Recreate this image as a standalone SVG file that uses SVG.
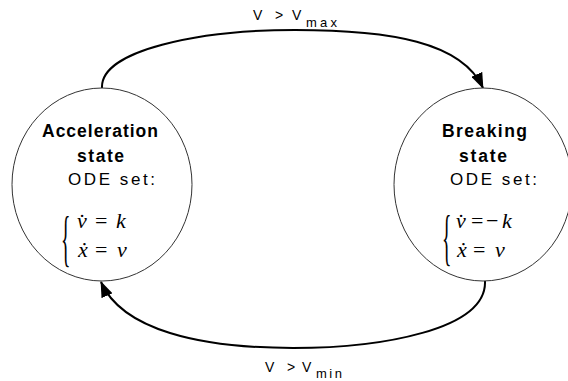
<svg xmlns="http://www.w3.org/2000/svg" width="568" height="381" viewBox="0 0 568 381">
<style>
.state{fill:#fff;stroke:#333;stroke-width:1}
.title{font-family:"Liberation Sans",Arial,sans-serif;font-weight:bold;font-size:17.5px;fill:#000}
.ode{font-family:"Liberation Sans",Arial,sans-serif;font-size:17px;fill:#000}
.eq{font-family:"Liberation Serif","Times New Roman",serif;font-style:italic;font-size:22px;fill:#000}
.op{font-family:"Liberation Serif","Times New Roman",serif;font-style:normal;font-size:22px;fill:#000}
.brace{font-family:"Liberation Serif","Times New Roman",serif;font-size:58px;fill:#000}
.lbl{font-family:"Liberation Sans",Arial,sans-serif;font-size:14px;fill:#000}
.sub{font-family:"Liberation Sans",Arial,sans-serif;font-size:13px;fill:#000}
.edge{fill:none;stroke:#000;stroke-width:2}
</style>
<defs>
<marker id="arr" markerUnits="userSpaceOnUse" markerWidth="16" markerHeight="12" refX="15" refY="6" orient="auto">
<path d="M0,0 L16,6 L0,12 Z" fill="#000"/>
</marker>
</defs>
<rect width="568" height="381" fill="#fff"/>
<g id="connectors">
<path class="edge" d="M102,88 C100,50 200,30 295,30 C390,30 462,42 483,88" marker-end="url(#arr)"/>
<path class="edge" d="M485,281 C487,330 380,348 293,348 C200,348 122,330 101,282" marker-end="url(#arr)"/>
<text class="lbl" y="20"><tspan x="253">V</tspan><tspan x="275">&gt;</tspan><tspan x="292">V</tspan></text>
<text class="sub" x="306" y="27" textLength="31">max</text>
<text class="lbl" y="372"><tspan x="265">V</tspan><tspan x="287">&gt;</tspan><tspan x="302">V</tspan></text>
<text class="sub" x="316" y="378" textLength="26">min</text>
</g>
<g id="acceleration">
<ellipse class="state" cx="102" cy="184.5" rx="90" ry="96.5"/>
<text class="title" x="42" y="137" textLength="116">Acceleration</text>
<text class="title" x="77" y="162" textLength="47">state</text>
<text class="ode" x="68" y="185" textLength="87">ODE set:</text>
<text class="brace" transform="translate(61,259) scale(0.34,1.05)">{</text>
<text class="eq" y="228"><tspan x="77">v&#775;</tspan><tspan class="op" x="95">=</tspan><tspan x="116">k</tspan></text>
<text class="eq" y="257"><tspan x="78">x&#775;</tspan><tspan class="op" x="95">=</tspan><tspan x="117">v</tspan></text>
</g>
<g id="breaking">
<ellipse class="state" cx="483" cy="184.5" rx="89" ry="96.5"/>
<text class="title" x="442" y="137" textLength="85">Breaking</text>
<text class="title" x="459" y="162" textLength="48">state</text>
<text class="ode" x="450" y="185" textLength="87">ODE set:</text>
<text class="brace" transform="translate(442,258) scale(0.34,1.05)">{</text>
<text class="eq" y="228"><tspan x="456">v&#775;</tspan><tspan class="op" x="471">=</tspan><tspan class="op" x="486">&#8722;</tspan><tspan x="502">k</tspan></text>
<text class="eq" y="257"><tspan x="457">x&#775;</tspan><tspan class="op" x="473">=</tspan><tspan x="495">v</tspan></text>
</g>
</svg>
